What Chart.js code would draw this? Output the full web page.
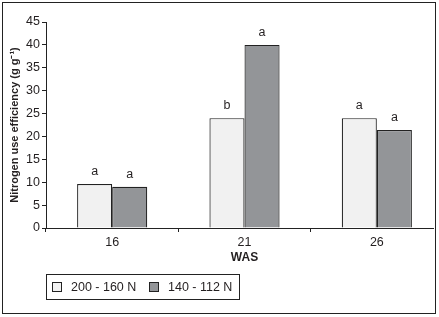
<!DOCTYPE html>
<html>
<head>
<meta charset="utf-8">
<script src="https://cdn.jsdelivr.net/npm/chart.js@4.4.1/dist/chart.umd.min.js"></script>
<style>
  html, body { margin: 0; padding: 0; background: #fff; overflow: hidden; }
  #page { position: relative; width: 439px; height: 317px; }
  #plot { position: absolute; left: 0; top: 0; width: 450px; height: 265px; clip-path: inset(0 16px 0 0); }
  #frame { position: absolute; left: 2px; top: 2px; width: 434px; height: 312px; box-sizing: border-box;
           border: 1.5px solid #222; pointer-events: none; }
  #legend { position: absolute; left: 46px; top: 274px; width: 194px; height: 26px; box-sizing: border-box;
            border: 1.5px solid #222; font: 12.5px "Liberation Sans", Arial, sans-serif; color: #231f20; white-space: nowrap; }
  #legend .item { position: absolute; top: 0; height: 23px; display: flex; align-items: center; }
  #legend .sw { width: 8px; height: 8px; border: 1px solid #222; margin-right: 9px; }
</style>
</head>
<body>
<div id="page">
  <div id="plot"><canvas id="nueChart"></canvas></div>
  <div id="frame"></div>
  <div id="legend"></div>
</div>
<script>
// data
const categories = ["16", "21", "26"];
const seriesNames = ["200 - 160 N", "140 - 112 N"];
const highN = [9.6, 24.0, 24.0];
const lowN  = [9.0, 40.0, 21.4];
const highLetters = ["a", "b", "a"];
const lowLetters  = ["a", "a", "a"];
const yTicks = [0, 5, 10, 15, 20, 25, 30, 35, 40, 45];

const FONT = '"Liberation Sans", Arial, sans-serif';
const INK = "#231f20";
const FILLS = ["#f1f1f1", "#939598"];

// letters of significance above each bar
const letterPlugin = {
  id: "letters",
  afterDatasetsDraw(chart) {
    const ctx = chart.ctx;
    const sets = [highLetters, lowLetters];
    ctx.save();
    ctx.font = "12.5px " + FONT;
    ctx.fillStyle = INK;
    ctx.textAlign = "center";
    ctx.textBaseline = "bottom";
    sets.forEach((letters, di) => {
      chart.getDatasetMeta(di).data.forEach((bar, i) => {
        ctx.fillText(letters[i], bar.x, bar.y - 6);
      });
    });
    ctx.restore();
  }
};

const el = document.getElementById("nueChart");
new Chart(el, {
  type: "bar",
  data: {
    labels: categories,
    datasets: [
      { label: seriesNames[0], data: highN, backgroundColor: FILLS[0], borderColor: "#222", borderWidth: 1.2 },
      { label: seriesNames[1], data: lowN, backgroundColor: FILLS[1], borderColor: "#222", borderWidth: 1.2 }
    ]
  },
  options: {
    responsive: true,
    maintainAspectRatio: false,
    animation: false,
    layout: { padding: { top: 22, right: 7, left: 0, bottom: 0 } },
    datasets: { bar: { categoryPercentage: 0.53, barPercentage: 1 } },
    plugins: { legend: { display: false }, tooltip: { enabled: false } },
    scales: {
      x: {
        grid: { display: true, drawOnChartArea: false, offset: true, tickLength: 4, color: "#222" },
        border: { color: "#222", width: 1 },
        ticks: { color: INK, font: { family: FONT, size: 12.5 }, padding: 3 },
        title: { display: true, text: "WAS", color: INK, font: { family: FONT, size: 12, weight: "bold" }, padding: { top: 2, bottom: 0 } },
        afterFit: (s) => { s.height = 37; }
      },
      y: {
        min: 0, max: 45,
        afterBuildTicks: (s) => { s.ticks = yTicks.map(v => ({ value: v })); },
        grid: { display: true, drawOnChartArea: false, tickLength: 4, color: "#222" },
        border: { color: "#222", width: 1 },
        ticks: { color: INK, font: { family: FONT, size: 12.5 }, padding: 2 },
        title: { display: true, text: "Nitrogen use efficiency (g g\u207B\u00B9)", color: INK,
                 font: { family: FONT, size: 11, weight: "bold" }, padding: { top: 8, bottom: 0 } },
        afterFit: (s) => { s.width = 46; }
      }
    }
  },
  plugins: [letterPlugin]
});

// legend box under the plot
const legend = document.getElementById("legend");
const legendLeft = [5, 102];
seriesNames.forEach((name, i) => {
  const item = document.createElement("div");
  item.className = "item";
  item.style.left = legendLeft[i] + "px";
  const sw = document.createElement("span");
  sw.className = "sw";
  sw.style.background = FILLS[i];
  const txt = document.createElement("span");
  txt.textContent = name;
  item.appendChild(sw);
  item.appendChild(txt);
  legend.appendChild(item);
});
</script>
</body>
</html>
